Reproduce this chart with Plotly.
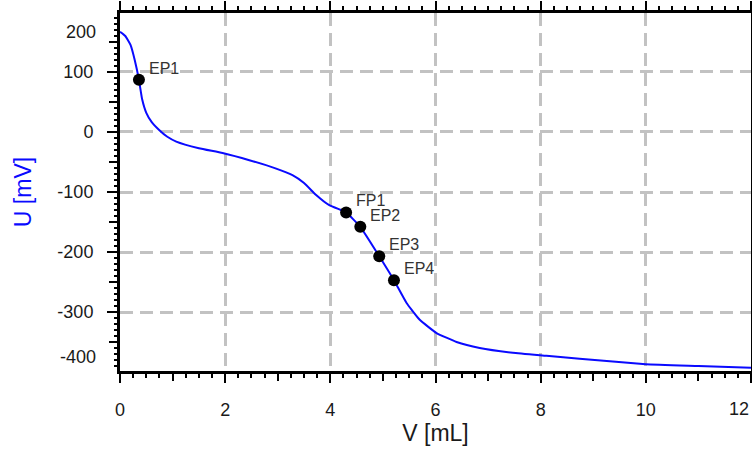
import plotly.graph_objects as go

# Titration curve (V in mL, U in mV)
V = [0.0, 0.1, 0.2, 0.28, 0.36, 0.42, 0.5, 0.6, 0.75, 0.9, 1.07, 1.5, 1.95, 2.46, 2.97, 3.28, 3.5,
     3.73, 3.98, 4.2, 4.30, 4.57, 4.93, 5.21, 5.45, 5.7, 6.02, 6.4, 6.84, 7.47, 8.11, 8.74,
     10.0, 11.0, 12.0]
U = [167, 160, 145, 120, 87, 55, 32, 17, 3, -8, -16, -27, -35, -47, -61, -72, -85,
     -105, -122, -130, -134, -158, -207, -247, -285, -313, -335, -350, -360, -368, -373, -378,
     -387, -390, -393]

# End points
ep_names = ["EP1", "FP1", "EP2", "EP3", "EP4"]
ep_v = [0.36, 4.30, 4.57, 4.93, 5.21]
ep_u = [87, -134, -158, -207, -247]

x_ticks = [0, 2, 4, 6, 8, 10, 12]
x_ticktext = ["0", "2", "4", "6", "8", "10", ""]
x_edge_label = "12"
x_odd = [1, 3, 5, 7, 9, 11]
y_labels = [100, 0, -100, -200, -300]
y_half = [150, 50, -50, -150, -250, -350]
y_edge_labels = ["200", "-400"]

FONT = "Liberation Sans, Arial, sans-serif"
GRID = "#c2c2c2"
TXT = "#1a1a1a"

fig = go.Figure()
fig.add_trace(go.Scatter(x=V, y=U, mode="lines",
                         line=dict(color="#0a0aff", width=2, shape="spline", smoothing=0.4),
                         hoverinfo="skip", showlegend=False))
fig.add_trace(go.Scatter(x=ep_v, y=ep_u, mode="markers", marker=dict(color="black", size=12),
                         showlegend=False))
# invisible traces on overlay axes
fig.add_trace(go.Scatter(x=[None], y=[None], xaxis="x2", yaxis="y2", showlegend=False))
fig.add_trace(go.Scatter(x=[None], y=[None], xaxis="x", yaxis="y3", showlegend=False))

for n, xv, yv in zip(ep_names, ep_v, ep_u):
    fig.add_annotation(x=xv, y=yv, text=n, showarrow=False, xanchor="left", yanchor="bottom",
                       xshift=8, yshift=1, font=dict(family=FONT, size=16, color="#333333"))

# edge labels drawn inside the axis extent as in the reference
lab_font = dict(family=FONT, size=18, color=TXT)
fig.add_annotation(xref="paper", yref="paper", x=0, y=0.947, text=y_edge_labels[0], showarrow=False,
                   xanchor="right", yanchor="middle", xshift=-22, font=lab_font)
fig.add_annotation(xref="paper", yref="paper", x=0, y=0.039, text=y_edge_labels[1], showarrow=False,
                   xanchor="right", yanchor="middle", xshift=-22, font=lab_font)
fig.add_annotation(xref="paper", yref="paper", x=1, y=0, text=x_edge_label, showarrow=False,
                   xanchor="right", yanchor="middle", yshift=-38, font=lab_font)

fig.update_layout(
    width=752, height=452,
    margin=dict(l=120, r=1, t=13, b=81),
    plot_bgcolor="white", paper_bgcolor="white",
    font=dict(family=FONT, color=TXT),
    xaxis=dict(
        range=[0, 12], tickvals=x_ticks, ticktext=x_ticktext,
        ticks="outside", ticklen=9, tickwidth=2, tickcolor="black",
        minor=dict(dtick=0.25, ticks="outside", ticklen=4, tickwidth=1.5, tickcolor="black", showgrid=False),
        showline=True, linewidth=3, linecolor="black", mirror="ticks",
        showgrid=True, gridcolor=GRID, gridwidth=3, griddash="13px,7px",
        zeroline=False, tickfont=lab_font,
        ticklabelstandoff=11, automargin=False,
        title=dict(text="V [mL]", font=dict(size=23, family=FONT, color=TXT), standoff=5),
    ),
    yaxis=dict(
        range=[-398.3, 198.3], tickvals=y_labels, ticktext=[str(v) for v in y_labels],
        ticks="outside", ticklen=10, tickwidth=2, tickcolor="black",
        minor=dict(dtick=10, ticks="outside", ticklen=3, tickwidth=1.5, tickcolor="black", showgrid=False),
        showline=True, linewidth=3, linecolor="black", mirror=False,
        showgrid=True, gridcolor=GRID, gridwidth=3, griddash="13px,7px",
        zeroline=False, tickfont=lab_font,
        ticklabelstandoff=10, automargin=False,
        title=dict(text="U [mV]", font=dict(size=23, family=FONT, color="#0a0aff"), standoff=20),
    ),
    xaxis2=dict(
        range=[0, 12], overlaying="x", anchor="y2", side="bottom", tickvals=x_odd,
        ticks="outside", ticklen=9, tickwidth=2, tickcolor="black", showticklabels=False,
        showgrid=False, showline=False, zeroline=False, automargin=False,
    ),
    yaxis2=dict(
        range=[-398.3, 198.3], overlaying="y", anchor="x2", side="left", tickvals=y_half,
        ticks="outside", ticklen=10, tickwidth=2, tickcolor="black", showticklabels=False,
        showgrid=False, showline=False, zeroline=False, automargin=False,
    ),
    yaxis3=dict(
        range=[-398.3, 198.3], overlaying="y", anchor="x", side="right",
        ticks="", showticklabels=False, showgrid=False, zeroline=False, automargin=False,
        showline=True, linewidth=1, linecolor="black",
    ),
)

fig.write_html("out.html")
